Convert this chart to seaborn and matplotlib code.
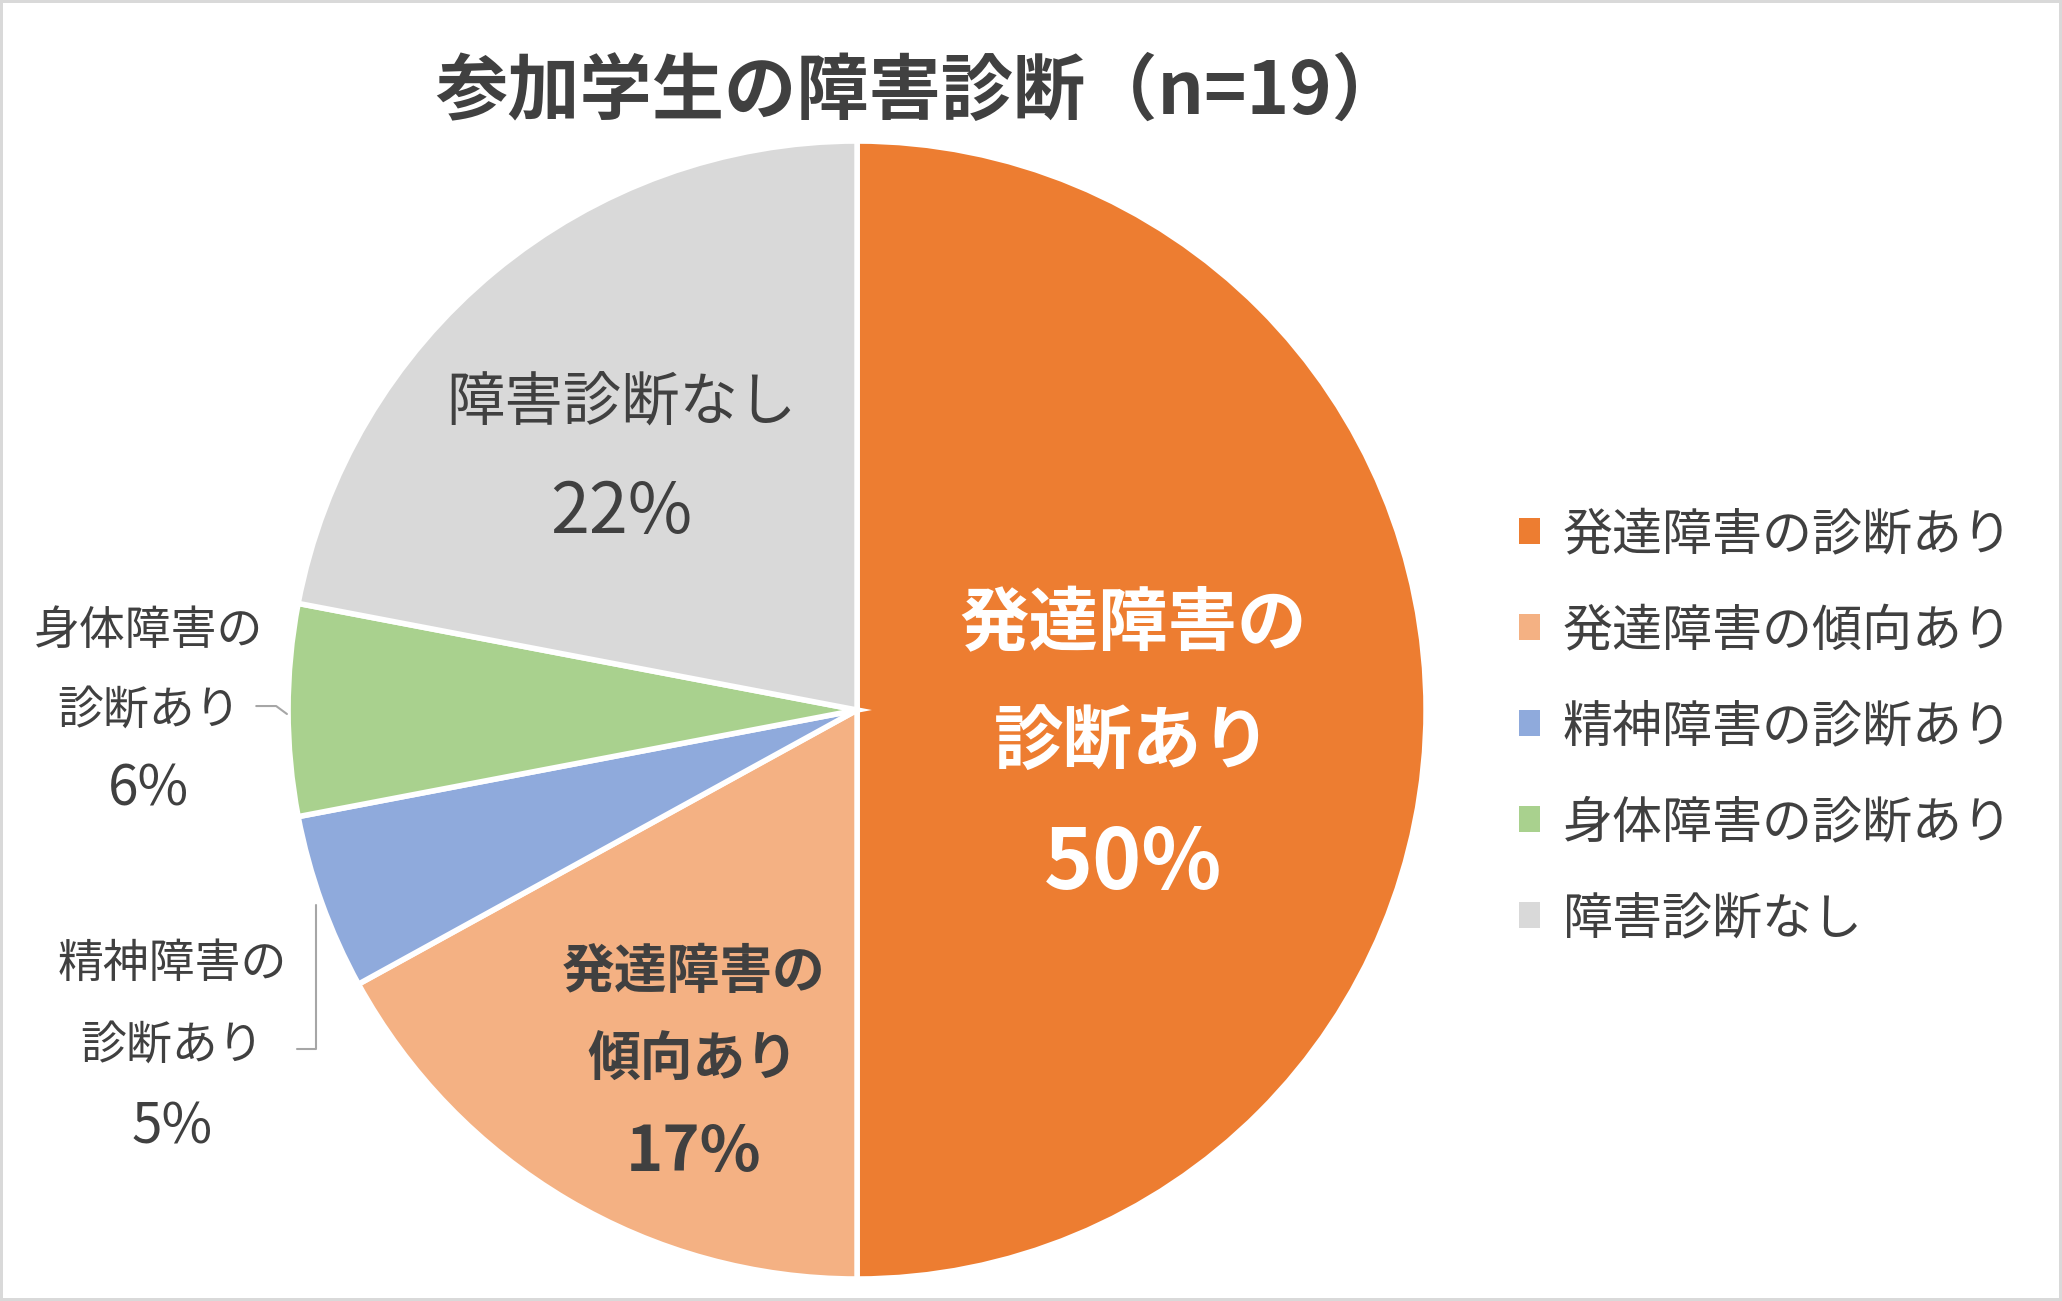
"""
Pie chart: disability diagnoses of participating students (n=19).
"""
import matplotlib.pyplot as plt
import seaborn as sns

# ---- data ----
categories = ["発達障害の診断あり", "発達障害の傾向あり", "精神障害の診断あり",
              "身体障害の診断あり", "障害診断なし"]
shares = [50, 17, 5, 6, 22]
colors = ["#ED7D31", "#F4B183", "#8FAADC", "#A9D18E", "#D9D9D9"]
title = "参加学生の障害診断（n=19）"

# label text per slice (lines)
label_lines = [
    ["発達障害の", "診断あり"],
    ["発達障害の", "傾向あり"],
    ["精神障害の", "診断あり"],
    ["身体障害の", "診断あり"],
    ["障害診断なし"],
]

sns.set_theme(style="white")
plt.rcParams["font.family"] = ["Noto Sans CJK JP", "DejaVu Sans"]
TEXT = "#404040"

fig = plt.figure(figsize=(20.62, 13.01), dpi=100, edgecolor="#d9d9d9", linewidth=3)
ax = fig.add_axes([0.1397, 0.0169, 0.5519, 0.8747])

wedges, _ = ax.pie(
    shares,
    colors=colors,
    startangle=90,
    counterclock=False,
    radius=1.0,
    wedgeprops=dict(edgecolor="white", linewidth=4, clip_on=False),
)
ax.set_xlim(-1, 1)
ax.set_ylim(-1, 1)
ax.set_aspect("equal")
ax.set_axis_off()

# ---- slice labels: (x, line y positions, fontsize, weight, color) ----
label_style = [
    (0.485, [0.149, -0.058, -0.271], 50, "bold", "white"),
    (-0.288, [-0.462, -0.615, -0.777], 38, "bold", TEXT),
    (-1.204, [-0.446, -0.589, -0.735], 33, "normal", TEXT),
    (-1.245, [0.139, 0.0, -0.141], 33, "normal", TEXT),
    (-0.415, [0.538, 0.346], 42, "normal", TEXT),
]
for lines, share, (x, ys, fs, wt, col) in zip(label_lines, shares, label_style):
    texts = lines + [f"{share}%"]
    for i, (txt, y) in enumerate(zip(texts, ys)):
        size = fs * 1.2 if i == len(texts) - 1 else fs  # percent digits run larger
        ax.text(x, y, txt, ha="center", va="center", fontsize=size,
                fontweight=wt, color=col, clip_on=False)

# leader lines for the small outside labels
ax.plot([-1.056, -1.021, -1.002], [0.007, 0.007, -0.007], color="#a6a6a6",
        lw=1.5, clip_on=False)
ax.plot([-0.984, -0.951, -0.951], [-0.596, -0.596, -0.343], color="#a6a6a6",
        lw=1.5, clip_on=False)

fig.text(0.446, 0.929, title, ha="center", va="center", fontsize=52,
         fontweight="bold", color=TEXT)

fig.legend(
    wedges, categories,
    loc="center left",
    bbox_to_anchor=(0.7367, 0.441),
    frameon=False,
    fontsize=36,
    labelcolor=TEXT,
    handlelength=0.42,
    handleheight=0.42,
    handletextpad=0.45,
    labelspacing=0.88,
    borderpad=0,
    borderaxespad=0,
)
for h in fig.legends[0].legend_handles:
    h.set_edgecolor("none")

fig.savefig("out.png", dpi=100)
